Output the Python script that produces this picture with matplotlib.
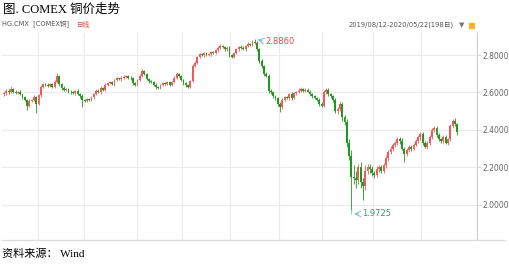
import numpy as np
import matplotlib
matplotlib.use("Agg")
import matplotlib.pyplot as plt

plt.rcParams['font.family'] = ['DejaVu Sans', 'Noto Sans CJK SC']

# ── Data: COMEX copper daily, 2019/08/12 - 2020/05/22 (198 days) ─────────────
first_open = 2.590
close = [
    2.595, 2.610, 2.600, 2.620, 2.605, 2.598, 2.602, 2.590, 2.575, 2.560,
    2.530, 2.555, 2.560, 2.575, 2.540, 2.585, 2.630, 2.645, 2.640, 2.635,
    2.645, 2.630, 2.655, 2.690, 2.645, 2.625, 2.615, 2.620, 2.605, 2.600,
    2.595, 2.610, 2.590, 2.580, 2.560, 2.555, 2.565, 2.560, 2.575, 2.590,
    2.610, 2.600, 2.625, 2.615, 2.640, 2.650, 2.655, 2.645, 2.665, 2.675,
    2.670, 2.680, 2.685, 2.690, 2.680, 2.675, 2.650, 2.640, 2.665, 2.690,
    2.715, 2.700, 2.670, 2.660, 2.655, 2.640, 2.630, 2.625, 2.640, 2.650,
    2.645, 2.655, 2.640, 2.655, 2.680, 2.700, 2.690, 2.665, 2.650, 2.640,
    2.630, 2.660, 2.740, 2.760, 2.790, 2.805, 2.800, 2.810, 2.800, 2.805,
    2.815, 2.810, 2.825, 2.840, 2.850, 2.845, 2.830, 2.840, 2.800, 2.790,
    2.810, 2.830, 2.845, 2.840, 2.830, 2.850, 2.860, 2.855, 2.870, 2.865,
    2.830, 2.770, 2.740, 2.700, 2.690, 2.610, 2.600, 2.580, 2.570, 2.540,
    2.520, 2.560, 2.575, 2.570, 2.590, 2.570, 2.595, 2.600, 2.610, 2.620,
    2.610, 2.615, 2.605, 2.590, 2.580, 2.570, 2.560, 2.540, 2.530, 2.600,
    2.615, 2.590, 2.580, 2.560, 2.500, 2.510, 2.540, 2.470, 2.440, 2.330,
    2.260, 2.150, 2.140, 2.130, 2.200, 2.120, 2.100, 2.180, 2.200, 2.190,
    2.170, 2.160, 2.190, 2.200, 2.180, 2.210, 2.250, 2.280, 2.300, 2.320,
    2.330, 2.350, 2.340, 2.300, 2.270, 2.290, 2.310, 2.300, 2.320, 2.340,
    2.360, 2.380, 2.330, 2.310, 2.330, 2.360, 2.400, 2.410, 2.370, 2.350,
    2.340, 2.360, 2.330, 2.350, 2.420, 2.450, 2.430, 2.390,
]
# wick length above / below the candle body
high_ext = [
    .010, .006, .008, .012, .005, .008, .006, .010, .004, .008,
    .006, .008, .005, .010, .006, .008, .012, .006, .005, .008,
    .006, .008, .010, .015, .006, .005, .008, .006, .004, .008,
    .006, .005, .008, .006, .010, .005, .006, .008, .006, .005,
    .008, .006, .010, .005, .008, .006, .005, .008, .006, .010,
    .005, .006, .008, .005, .006, .008, .006, .005, .008, .010,
    .008, .006, .005, .008, .006, .005, .008, .006, .005, .008,
    .006, .005, .008, .006, .010, .008, .006, .005, .008, .006,
    .005, .008, .010, .008, .006, .005, .008, .006, .005, .008,
    .006, .005, .008, .006, .010, .005, .006, .008, .006, .005,
    .008, .006, .005, .008, .006, .005, .008, .006, .008, .016,
    .008, .010, .008, .006, .010, .008, .006, .008, .005, .006,
    .008, .010, .006, .008, .005, .010, .006, .008, .012, .008,
    .006, .010, .008, .006, .008, .005, .006, .008, .010, .012,
    .008, .010, .008, .006, .010, .012, .015, .010, .008, .020,
    .020, .030, .060, .040, .020, .030, .020, .030, .015, .020,
    .015, .010, .015, .012, .010, .012, .015, .010, .015, .012,
    .010, .012, .010, .015, .010, .012, .010, .008, .010, .012,
    .010, .008, .010, .012, .008, .010, .012, .008, .010, .012,
    .008, .010, .012, .008, .010, .010, .012, .008,
]
low_ext = [
    .008, .006, .010, .005, .008, .006, .008, .005, .010, .008,
    .025, .006, .008, .005, .050, .006, .008, .005, .006, .008,
    .006, .008, .005, .006, .008, .010, .006, .005, .008, .006,
    .005, .008, .006, .010, .040, .006, .008, .005, .006, .008,
    .006, .005, .008, .006, .005, .008, .006, .005, .008, .006,
    .005, .008, .006, .005, .008, .006, .010, .008, .005, .006,
    .008, .006, .005, .008, .006, .008, .010, .006, .005, .008,
    .006, .005, .008, .006, .005, .008, .006, .005, .008, .010,
    .006, .008, .006, .005, .008, .006, .005, .008, .006, .005,
    .008, .006, .005, .008, .006, .005, .008, .006, .010, .008,
    .006, .005, .008, .006, .005, .008, .006, .005, .008, .006,
    .008, .010, .008, .010, .008, .012, .010, .008, .010, .012,
    .025, .010, .008, .006, .010, .008, .006, .008, .005, .006,
    .008, .006, .005, .008, .010, .006, .008, .010, .008, .010,
    .008, .010, .008, .012, .010, .015, .010, .020, .015, .020,
    .020, .1775, .030, .040, .020, .030, .075, .020, .015, .020,
    .015, .020, .010, .015, .012, .010, .012, .015, .010, .012,
    .010, .012, .015, .010, .040, .012, .010, .012, .010, .008,
    .010, .012, .010, .008, .012, .010, .008, .012, .010, .008,
    .012, .010, .008, .012, .010, .008, .012, .020,
]
grid_days = [14.7, 34.6, 57.6, 77.5, 98.3, 119.5, 138.1, 160.2, 181.4]
y_ticks = [2.0, 2.2, 2.4, 2.6, 2.8]

close = np.array(close)
opn = np.concatenate([[first_open], close[:-1]])
high = np.maximum(opn, close) + np.array(high_ext)
low = np.minimum(opn, close) - np.array(low_ext)
days = np.arange(len(close))

RED = "#f25a5a"
GREEN = "#1f9a1f"

fig = plt.figure(figsize=(5.1, 2.64), dpi=100)
ax = fig.add_axes([2 / 510, 1 - 240 / 264, 475 / 510, 207 / 264])
ax.set_xlim(-0.9, 205.6)
ax.set_ylim(1.811, 2.918)

for d in grid_days:
    ax.axvline(d, color="#ebebeb", lw=0.8, zorder=0)
for t in y_ticks:
    ax.axhline(t, color="#ebebeb", lw=0.8, zorder=0)

up = close >= opn
cols = np.where(up, RED, GREEN)
ax.vlines(days, low, high, colors=cols, lw=0.6, zorder=2)
body_h = np.abs(close - opn)
body_h = np.maximum(body_h, 0.002)
ax.bar(days, body_h, bottom=np.minimum(opn, close), width=0.8,
       color=cols, linewidth=0, zorder=3)

# max / min labels
imax = int(np.argmax(high))
imin = int(np.argmin(low))
ax.annotate("", xy=(imax, high[imax]), xytext=(imax + 4.3, high[imax] - 0.012),
            arrowprops=dict(arrowstyle="->", color="#7fb2d8", lw=0.7))
ax.text(imax + 4.5, high[imax] - 0.012, f"{high[imax]:.4f}", color="#e8474a",
        fontsize=6, ha="left", va="center")
ax.annotate("", xy=(imin, low[imin] - 0.022), xytext=(imin + 4.3, low[imin] - 0.022),
            arrowprops=dict(arrowstyle="->", color="#7fb2d8", lw=0.7))
ax.plot([imin, imin], [low[imin], low[imin] - 0.022], color="#9cc89c", lw=0.6)
ax.text(imin + 4.5, low[imin] - 0.022, f"{low[imin]:.4f}", color="#3a9a6a",
        fontsize=6, ha="left", va="center")

ax.yaxis.tick_right()
ax.set_yticks(y_ticks)
ax.set_yticklabels([f"{t:.4f}" for t in y_ticks])
ax.tick_params(axis="y", length=3, color="#dddddd", labelsize=5.5,
               labelcolor="#666666", pad=1)
ax.set_xticks([])
for s in ["top", "left", "bottom"]:
    ax.spines[s].set_visible(False)
ax.spines["right"].set_color("#cccccc")
ax.spines["right"].set_linewidth(0.8)

# bottom rule
fig.add_artist(plt.Line2D([0.004, 0.99], [1 - 240 / 264] * 2,
                          color="#dddddd", lw=0.9))

# header texts
fig.text(3 / 510, 1 - 10 / 264, "图. COMEX 铜价走势", fontsize=9,
         family=["Liberation Serif", "Noto Sans CJK SC"], va="center", ha="left")
fig.text(2 / 510, 1 - 24 / 264, "HG.CMX  [COMEX铜]", fontsize=4.8,
         color="#555555", va="center", ha="left")
fig.text(77 / 510, 1 - 24 / 264, "日线", fontsize=4.8, color="#f04040",
         va="center", ha="left")
fig.text(349 / 510, 1 - 25 / 264, "2019/08/12-2020/05/22(198日)", fontsize=4.85,
         color="#555555", va="center", ha="left")
fig.text(459 / 510, 1 - 25 / 264, "▼", fontsize=5, color="#777777",
         va="center", ha="left")
fig.add_artist(plt.Rectangle((469 / 510, 1 - 28 / 264), 5 / 510, 5 / 264,
                             color="#f5b335", transform=fig.transFigure))

fig.text(2 / 510, 1 - 254 / 264, "资料来源： Wind", fontsize=8,
         family=["Liberation Serif", "Noto Sans CJK SC"], va="center", ha="left")

fig.savefig("out.png", dpi=100)
